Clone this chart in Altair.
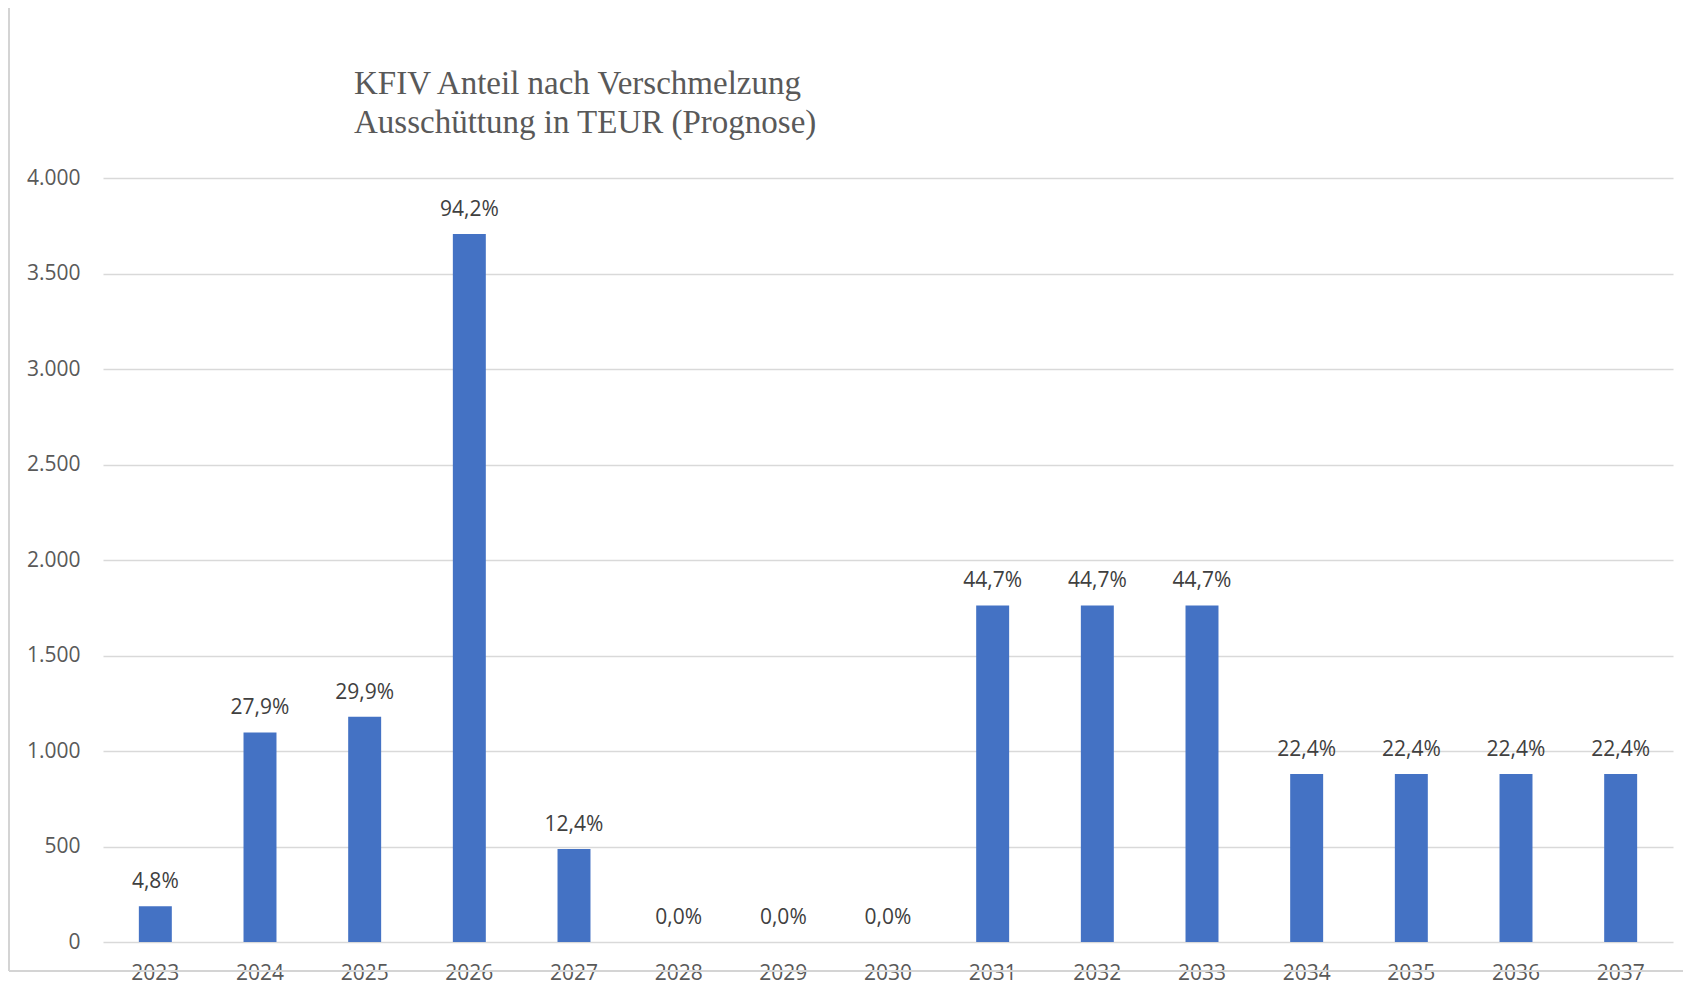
import altair as alt
import pandas as pd

years = ["2023", "2024", "2025", "2026", "2027", "2028", "2029", "2030",
         "2031", "2032", "2033", "2034", "2035", "2036", "2037"]
values = [187, 1097, 1179, 3707, 487, 0, 0, 0, 1762, 1762, 1762, 880, 880, 880, 880]
pct = [4.8, 27.9, 29.9, 94.2, 12.4, 0.0, 0.0, 0.0, 44.7, 44.7, 44.7, 22.4, 22.4, 22.4, 22.4]
y_ticks = [0, 500, 1000, 1500, 2000, 2500, 3000, 3500, 4000]
title_lines = ["KFIV Anteil nach Verschmelzung", "Ausschüttung in TEUR (Prognose)"]

df = pd.DataFrame({"year": years, "value": values, "pct": pct})
one = pd.DataFrame({"k": [0]})

W, H = 1570, 764
FONT = "Open Sans"
GRID = "#d9d9d9"

x_enc = alt.X("year:N", sort=years, title=None,
              scale=alt.Scale(paddingInner=0.685, paddingOuter=0.3425),
              axis=alt.Axis(labelAngle=0, ticks=False, domain=False, grid=False,
                            labelPadding=20, labelFontSize=21, labelFont=FONT,
                            labelColor="#595959"))
y_enc = alt.Y("value:Q", title=None,
              scale=alt.Scale(domain=[0, 4000], nice=False),
              axis=alt.Axis(values=y_ticks, ticks=False, domain=False, labelPadding=23,
                            labelFontSize=21, labelFont=FONT, labelColor="#595959",
                            grid=True, gridColor=GRID, gridWidth=1.6,
                            labelExpr="replace(format(datum.value, ',d'), ',', '.')"))

base = alt.Chart(df)

bars = base.mark_bar(color="#4472C4").encode(x=x_enc, y=y_enc)

labels = base.transform_calculate(
    lab="replace(format(datum.pct, '.1f'), '.', ',') + '%'"
).mark_text(baseline="alphabetic", dy=-18, fontSize=21, font=FONT, color="#404040").encode(
    x=alt.X("year:N", sort=years), y=alt.Y("value:Q"), text="lab:N")

title = alt.Chart(one).mark_text(
    text=title_lines, align="left", baseline="alphabetic", lineHeight=39,
    font="Liberation Serif", fontSize=33, color="#595959"
).encode(x=alt.value(251), y=alt.value(-84))

border_col = "#d4d4d4"
border_left = alt.Chart(one).mark_rule(color=border_col, strokeWidth=2).encode(
    x=alt.value(-94), y=alt.value(-174), y2=alt.value(793))
border_top = alt.Chart(one).mark_rule(color=border_col, strokeWidth=2).encode(
    x=alt.value(-94), x2=alt.value(W + 10), y=alt.value(-174))
border_bottom = alt.Chart(one).mark_rule(color=border_col, strokeWidth=2).encode(
    x=alt.value(-94), x2=alt.value(W + 10), y=alt.value(793))

chart = alt.layer(bars, labels, title, border_left, border_top, border_bottom).properties(
    width=W, height=H,
    autosize=alt.AutoSizeParams(type="none"),
    padding={"left": 95, "top": 170, "right": 10, "bottom": 60},
).configure(background="white").configure_view(stroke=None)

chart.save("out.html", embed_options={"renderer": "svg", "actions": False})
